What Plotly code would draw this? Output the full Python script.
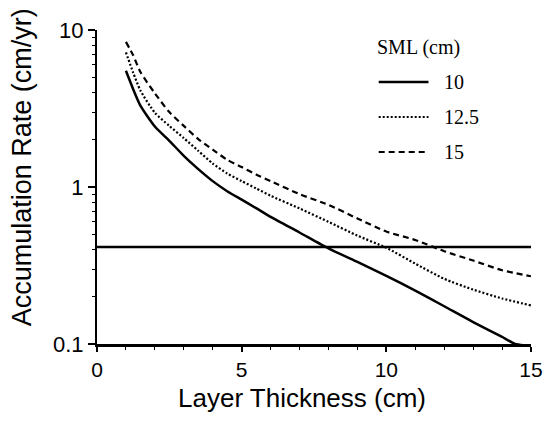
import plotly.graph_objects as go

# Data
x_10 = [1.0, 1.25, 1.5, 2.0, 2.5, 3.0, 3.5, 4.0, 4.5, 5.0, 5.5, 6.0, 7.0, 8.0, 9.0, 10.0, 11.0, 12.0, 13.0, 14.0, 14.45, 14.8]
y_10 = [5.5, 4.2, 3.3, 2.43, 1.97, 1.58, 1.3, 1.09, 0.94, 0.83, 0.733, 0.645, 0.513, 0.407, 0.333, 0.272, 0.219, 0.174, 0.138, 0.111, 0.1, 0.098]

x_125 = [1.0, 1.25, 1.5, 2.0, 2.5, 3.0, 3.5, 4.0, 4.5, 5.0, 5.5, 6.0, 7.0, 8.0, 9.0, 10.0, 11.0, 12.0, 13.0, 14.0, 15.0]
y_125 = [7.2, 5.35, 4.12, 2.97, 2.45, 2.05, 1.7, 1.41, 1.22, 1.09, 0.98, 0.88, 0.73, 0.6, 0.49, 0.41, 0.325, 0.26, 0.222, 0.195, 0.176]

x_15 = [1.0, 1.25, 1.5, 2.0, 2.5, 3.0, 3.5, 4.0, 4.5, 5.0, 5.5, 6.0, 7.0, 8.0, 9.0, 10.0, 11.0, 12.0, 13.0, 14.0, 15.0]
y_15 = [8.4, 6.9, 5.4, 3.95, 3.0, 2.45, 2.02, 1.73, 1.49, 1.34, 1.2, 1.09, 0.9, 0.77, 0.63, 0.52, 0.46, 0.39, 0.34, 0.295, 0.27]

ref_x = [0, 15]
ref_y = [0.415, 0.415]

legend_title = "SML (cm)"
legend_labels = ["10", "12.5", "15"]
dashes = ["solid", "2px,2px", "6px,4px"]
widths = [2.5, 2.2, 2.2]

fig = go.Figure()
fig.add_trace(go.Scatter(x=ref_x, y=ref_y, mode="lines",
                         line=dict(color="black", width=2.5), showlegend=False))
for xs, ys, d, w in zip([x_10, x_125, x_15], [y_10, y_125, y_15], dashes, widths):
    fig.add_trace(go.Scatter(x=xs, y=ys, mode="lines",
                             line=dict(color="black", width=w, dash=d,
                                       shape="spline", smoothing=0.6),
                             showlegend=False))

# custom legend in paper coordinates
L, R, T, B = 97, 533, 30, 344
W, H = 555, 430
def px(xp):
    return (xp - L) / (R - L)
def py(yp):
    return (B - yp) / (B - T)

fig.add_annotation(x=px(376), y=py(47), xref="paper", yref="paper",
                   text=legend_title, showarrow=False, xanchor="left", yanchor="middle",
                   font=dict(family="Liberation Serif", size=20, color="black"))
rows = [82, 117, 152]
for lab, d, w, r in zip(legend_labels, dashes, widths, rows):
    fig.add_shape(type="line", xref="paper", yref="paper",
                  x0=px(380), x1=px(430), y0=py(r), y1=py(r),
                  line=dict(color="black", width=w, dash=d))
    fig.add_annotation(x=px(444), y=py(r), xref="paper", yref="paper",
                       text=lab, showarrow=False, xanchor="left", yanchor="middle",
                       font=dict(family="Liberation Serif", size=20, color="black"))

# axis titles
fig.add_annotation(x=px(303), y=py(398), xref="paper", yref="paper",
                   text="Layer Thickness (cm)", showarrow=False,
                   xanchor="center", yanchor="middle",
                   font=dict(family="Liberation Sans", size=26, color="black"))
fig.add_annotation(x=px(22), y=py(167), xref="paper", yref="paper",
                   text="Accumulation Rate (cm/yr)", showarrow=False, textangle=-90,
                   xanchor="center", yanchor="middle",
                   font=dict(family="Liberation Sans", size=27, color="black"))

fig.update_layout(
    width=W, height=H,
    margin=dict(l=L, r=W - R, t=T, b=H - B),
    paper_bgcolor="white", plot_bgcolor="white",
    font=dict(family="Liberation Sans", size=21, color="black"),
    showlegend=False,
)
fig.update_xaxes(range=[0, 15], tickvals=[0, 5, 10, 15], showgrid=False, zeroline=False,
                 showline=True, linecolor="black", linewidth=2.5,
                 ticks="outside", ticklen=5, tickwidth=1.5, tickcolor="black",
                 minor=dict(dtick=1, ticks="outside", ticklen=3, tickwidth=1, tickcolor="black"),
                 tickfont=dict(size=21))
fig.update_yaxes(type="log", range=[-1, 1], tickvals=[0.1, 1, 10], ticktext=["0.1", "1", "10"],
                 showgrid=False, zeroline=False,
                 showline=True, linecolor="black", linewidth=2,
                 ticks="outside", ticklen=7, tickwidth=1.5, tickcolor="black",
                 minor=dict(dtick="D1", ticks="outside", ticklen=3, tickwidth=1, tickcolor="black"),
                 tickfont=dict(size=22))

fig.write_html("out.html")
